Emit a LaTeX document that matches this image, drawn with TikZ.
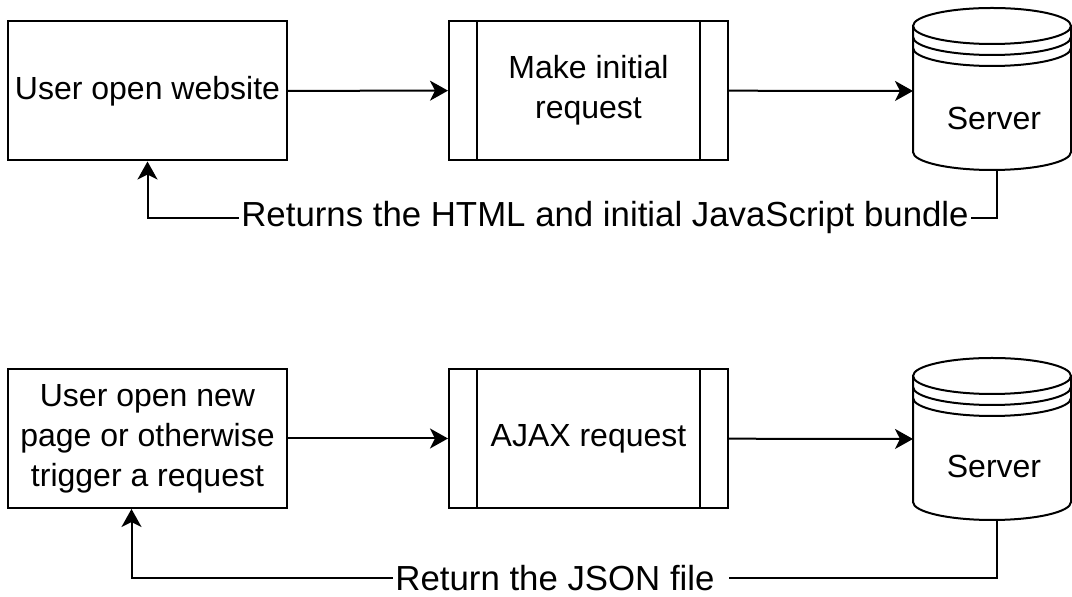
\documentclass[tikz,border=0pt]{standalone}
\usepackage{fontspec}
\setmainfont{Liberation Sans}
\usetikzlibrary{positioning,arrows.meta}

\tikzset{
  box/.style={draw, line width=1pt, minimum width=139.5pt, minimum height=69.5pt,
    inner sep=0pt, align=center},
  process/.style={box, path picture={
      \draw[line width=1pt] ([xshift=14pt]path picture bounding box.north west) -- ([xshift=14pt]path picture bounding box.south west);
      \draw[line width=1pt] ([xshift=-14pt]path picture bounding box.north east) -- ([xshift=-14pt]path picture bounding box.south east);
    }},
  flow/.style={line width=1pt, -{Stealth[length=9pt,width=10pt,inset=2.5pt]}},
  retlabel/.style={fill=white, inner sep=1pt, font=\fontsize{17.4pt}{20pt}\selectfont}
}

\begin{document}
\begin{tikzpicture}[x=0.5pt, y=-0.5pt, font=\fontsize{16pt}{20pt}\selectfont]
  \useasboundingbox (0,0) rectangle (1072,597);

  % first visit
  \node[box] (user1) at (147.5,91) {User open website};
  \node[process] (req1) at (588.5,90.5) {Make initial\\request};

  % new page
  \node[box] (user2) at (147.5,438.5) {User open new\\page or otherwise\\trigger a request};
  \node[process] (req2) at (588.5,438.5) {AJAX request};

  % servers
  \foreach \t in {8,358} {
    \draw[line width=1pt] (992,\t+18) ellipse [x radius=79, y radius=18];
    \draw[line width=1pt] (913,\t+18) -- (913,\t+144)
      arc [start angle=180, end angle=0, x radius=79, y radius=18] -- (1071,\t+18);
    \draw[line width=1pt] (913,\t+29) arc [start angle=180, end angle=0, x radius=79, y radius=18];
    \draw[line width=1pt] (913,\t+40) arc [start angle=180, end angle=0, x radius=79, y radius=18];
  }
  \node (srv1) at (994,118) {Server};
  \node (srv2) at (994,466) {Server};
  \coordinate (srv1in) at (913,91);
  \coordinate (srv2in) at (913,439);
  \coordinate (srv1out) at (997,170);
  \coordinate (srv2out) at (997,520);
  \coordinate (ret1) at (997,218);
  \coordinate (ret2) at (997,578);

  \draw[flow] (user1) -- (req1);
  \draw[flow] (req1) -- (srv1in);
  \draw[flow] (srv1out) -- (ret1) -| (user1.south);
  \node[retlabel] (lbl1) at (605,218) {Returns the HTML and initial JavaScript bundle};

  \draw[flow] (user2) -- (req2);
  \draw[flow] (req2) -- (srv2in);
  \draw[flow] (srv2out) -- (ret2) -| ([xshift=-8pt]user2.south);
  \node[retlabel] (lbl2) at (561,578) {Return the JSON file\kern6pt};
\end{tikzpicture}
\end{document}
